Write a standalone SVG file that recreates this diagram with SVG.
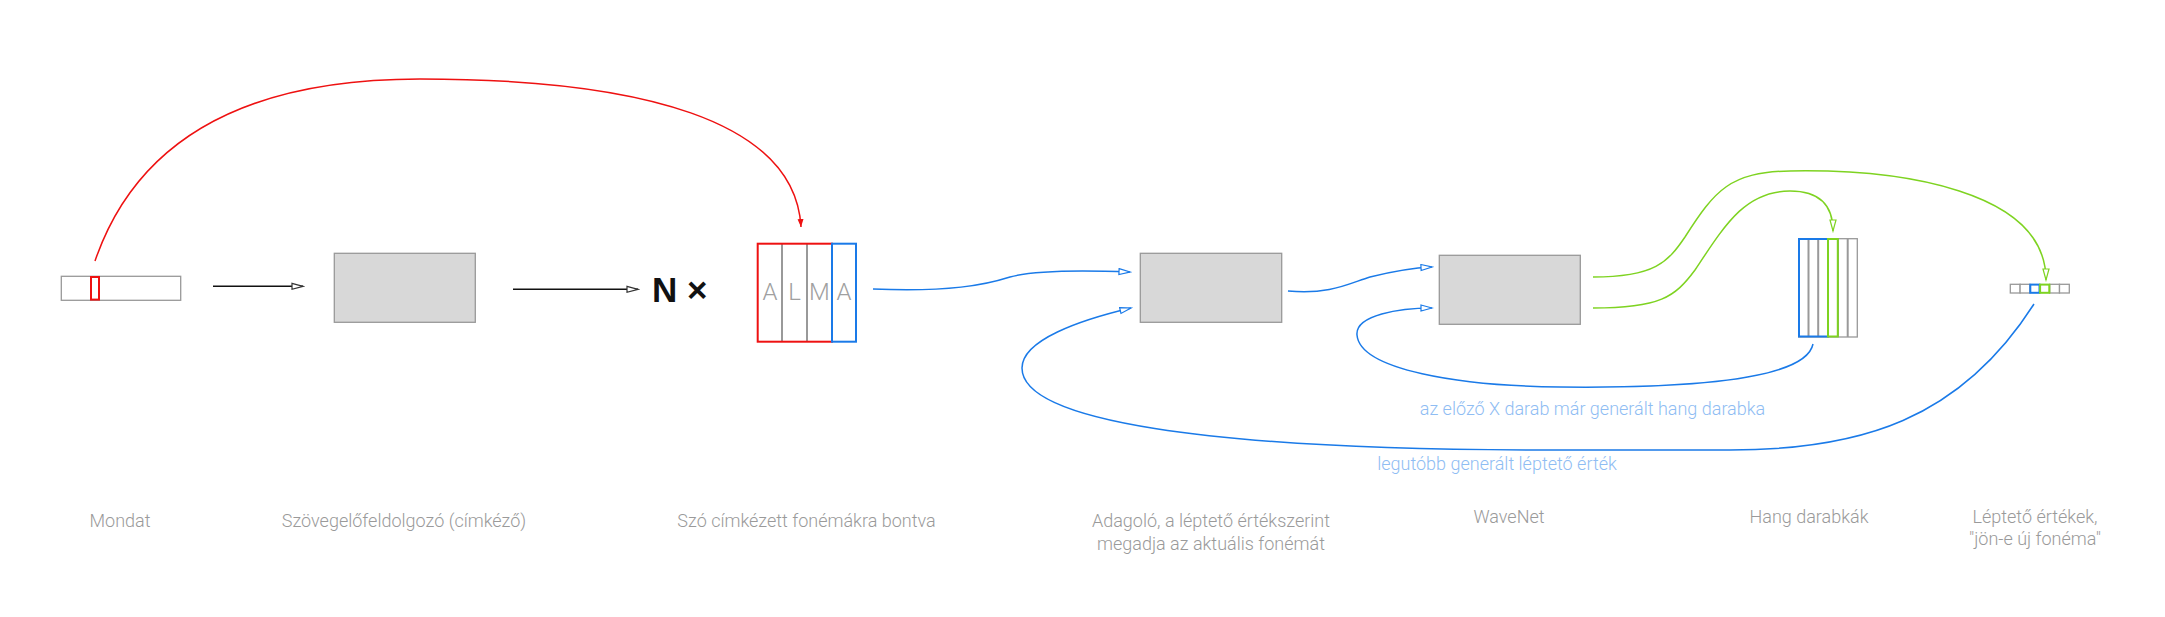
<svg xmlns="http://www.w3.org/2000/svg" width="2165" height="617" viewBox="0 0 2165 617">
<style>
.lbl{font-family:Roboto,"Liberation Sans",sans-serif;font-weight:300;font-size:18px;fill:#9a9a9a;text-anchor:middle}
.blbl{font-family:Roboto,"Liberation Sans",sans-serif;font-weight:300;font-size:18px;fill:#8fbdf3;text-anchor:middle}
.box{fill:#d8d8d8;stroke:#999;stroke-width:1.3}
.cell{fill:#fff;stroke:#999;stroke-width:1.3}
.div{stroke:#999;stroke-width:2}
.letter{font-family:Roboto,"Liberation Sans",sans-serif;font-weight:300;font-size:24px;fill:#a0a0a0;text-anchor:middle}
.k{fill:none;stroke:#111;stroke-width:1.5}
.r{fill:none;stroke:#ee1111;stroke-width:1.5}
.b{fill:none;stroke:#1a7ae8;stroke-width:1.5}
.g{fill:none;stroke:#7ed321;stroke-width:1.5}
</style>
<defs>
<marker id="ak" markerUnits="userSpaceOnUse" markerWidth="14" markerHeight="10" refX="12" refY="4" orient="auto"><path d="M1,1 L12,4 L1,7 Z" fill="#fff" stroke="#333" stroke-width="1.2"/></marker>
<marker id="ab" markerUnits="userSpaceOnUse" markerWidth="14" markerHeight="10" refX="12" refY="4" orient="auto"><path d="M1,1 L12,4 L1,7 Z" fill="#fff" stroke="#1a7ae8" stroke-width="1.2"/></marker>
<marker id="ag" markerUnits="userSpaceOnUse" markerWidth="14" markerHeight="10" refX="12" refY="4" orient="auto"><path d="M1,1 L12,4 L1,7 Z" fill="#fff" stroke="#7ed321" stroke-width="1.2"/></marker>
<marker id="ar" markerUnits="userSpaceOnUse" markerWidth="10" markerHeight="8" refX="8" refY="3" orient="auto"><path d="M0,0 L8,3 L0,6 Z" fill="#ee1111"/></marker>
</defs>

<g id="connectors">
<path class="r" d="M95,261 C140,130 260,79 420,79 C640,79 795,120 801,227" marker-end="url(#ar)"/>
<path class="k" d="M213,286.3 L303,286.3" marker-end="url(#ak)"/>
<path class="k" d="M513,289.3 L638,289.3" marker-end="url(#ak)"/>
<path class="b" d="M873,289 C950,292 985,285 1010,277 C1035,270 1080,270 1130,272" marker-end="url(#ab)"/>
<path class="b" d="M1288,291 C1330,295 1350,283 1370,277 C1390,272 1410,268 1432,267" marker-end="url(#ab)"/>
<path class="b" d="M1813,344 C1805,385 1650,388 1560,387 C1460,386 1360,370 1357,335 C1355,315 1400,308 1432,308" marker-end="url(#ab)"/>
<path class="b" d="M2034,304 C1960,420 1860,450 1730,450 L1550,450 C1200,450 1022,420 1022,368 C1022,340 1080,320 1131,308" marker-end="url(#ab)"/>
<path class="g" d="M1593,277 C1655,277 1668,262 1685,237 C1715,190 1730,172 1790,171 C1900,169 2046,190 2046,280" marker-end="url(#ag)"/>
<path class="g" d="M1593,308 C1660,308 1675,297 1695,270 C1725,225 1745,191 1790,191 C1820,191 1833,205 1833,231" marker-end="url(#ag)"/>
</g>

<g id="mondat">
<rect x="61.3" y="276.3" width="119.4" height="24" fill="#fff" stroke="#999" stroke-width="1.3"/>
<rect x="91" y="277" width="8" height="22.6" fill="none" stroke="#ee1111" stroke-width="2"/>
<text class="lbl" x="120" y="527">Mondat</text>
</g>

<g id="szovegelofeldolgozo">
<rect class="box" x="334.3" y="253.3" width="141" height="69"/>
<text class="lbl" x="404" y="527">Szövegelőfeldolgozó (címkéző)</text>
</g>

<g id="nx">
<text x="652" y="301.7" font-family="'Liberation Sans',Arial,sans-serif" font-weight="bold" font-size="35" fill="#111">N ×</text>
</g>

<g id="alma">
<line class="div" x1="782" y1="244" x2="782" y2="341"/>
<line class="div" x1="807" y1="244" x2="807" y2="341"/>
<rect x="757.7" y="243.7" width="74.3" height="98" fill="none" stroke="#ee1111" stroke-width="2"/>
<rect x="832" y="243.7" width="24" height="98" fill="none" stroke="#1a7ae8" stroke-width="2"/>
<text class="letter" x="770" y="299.5">A</text>
<text class="letter" x="794.5" y="299.5">L</text>
<text class="letter" x="819.5" y="299.5">M</text>
<text class="letter" x="844" y="299.5">A</text>
<text class="lbl" x="806.5" y="527">Szó címkézett fonémákra bontva</text>
</g>

<g id="adagolo">
<rect class="box" x="1140.3" y="253.3" width="141.4" height="69"/>
<text class="lbl" x="1211" y="527">Adagoló, a léptető értékszerint</text>
<text class="lbl" x="1211" y="550">megadja az aktuális fonémát</text>
</g>

<g id="wavenet">
<rect class="box" x="1439.3" y="255.3" width="141" height="69"/>
<text class="lbl" x="1509" y="522.7">WaveNet</text>
</g>

<g id="hang">
<rect class="cell" x="1798.7" y="238.7" width="58.6" height="98.3"/>
<line class="div" x1="1808.5" y1="239" x2="1808.5" y2="337"/>
<line class="div" x1="1818.2" y1="239" x2="1818.2" y2="337"/>
<line class="div" x1="1838" y1="239" x2="1838" y2="337"/>
<line class="div" x1="1847.7" y1="239" x2="1847.7" y2="337"/>
<rect x="1799" y="239" width="29" height="97.5" fill="none" stroke="#1a7ae8" stroke-width="2"/>
<rect x="1828" y="239" width="9.8" height="97.5" fill="none" stroke="#7ed321" stroke-width="2"/>
<text class="lbl" x="1809" y="522.7">Hang darabkák</text>
</g>

<g id="leptetok">
<rect class="cell" x="2010.3" y="284.3" width="9.8" height="8.7"/>
<rect class="cell" x="2020.1" y="284.3" width="9.8" height="8.7"/>
<rect class="cell" x="2049.7" y="284.3" width="9.8" height="8.7"/>
<rect class="cell" x="2059.5" y="284.3" width="9.8" height="8.7"/>
<rect x="2030.3" y="284.6" width="9.2" height="8.2" fill="#fff" stroke="#1a7ae8" stroke-width="2"/>
<rect x="2040.1" y="284.6" width="9.2" height="8.2" fill="#fff" stroke="#7ed321" stroke-width="2"/>
<text class="lbl" x="2035" y="522.7">Léptető értékek,</text>
<text class="lbl" x="2035" y="544.5">"jön-e új fonéma"</text>
</g>

<g id="connector-labels">
<text class="blbl" x="1592.5" y="415">az előző X darab már generált hang darabka</text>
<text class="blbl" x="1497" y="470">legutóbb generált léptető érték</text>
</g>
</svg>
